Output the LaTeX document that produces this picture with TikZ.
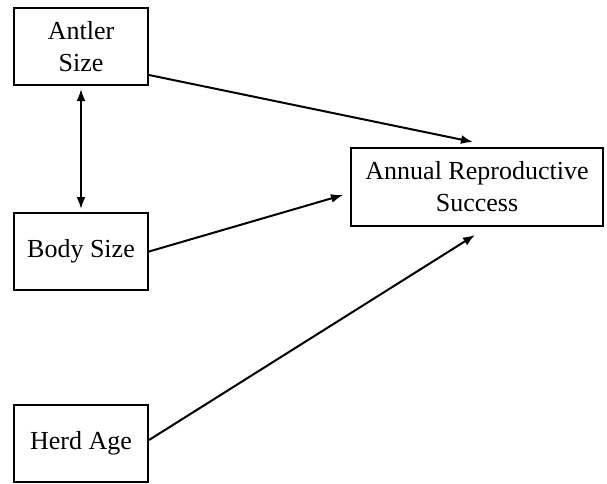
\documentclass[tikz,border=0pt]{standalone}
\usepackage{fontspec}
\setmainfont{Liberation Serif}
\usetikzlibrary{arrows.meta}
\begin{document}
\begin{tikzpicture}[x=1pt,y=-1pt,
  var/.style={draw, line width=2pt, inner sep=0pt, align=center,
    font=\fontsize{26}{32}\selectfont},
  link/.style={line width=2pt, -{Latex[length=12pt,width=9pt]}},
  dlink/.style={line width=2pt, {Latex[length=12pt,width=9pt]}-{Latex[length=12pt,width=9pt]}}]
\useasboundingbox (0,0) rectangle (607,483);
\node[var, minimum width=134pt, minimum height=77pt] (antler) at (81,46.5) {Antler\\Size};
\node[var, minimum width=134pt, minimum height=77pt] (body) at (81,251.5) {Body Size};
\node[var, minimum width=134pt, minimum height=77pt] (herd) at (81,443.5) {Herd Age};
\node[var, minimum width=252pt, minimum height=78pt] (ars) at (477,187) {Annual Reproductive\\Success};
\coordinate (t1) at (473,142);
\coordinate (t2) at (343,195);
\coordinate (t3) at (475,235);
\draw[link] (antler.east |- 0,75) -- (t1);
\draw[link] (body.east) -- (t2);
\draw[link] (herd.east |- 0,440) -- (t3);
\draw[dlink] ([yshift=-3pt]antler.south) -- ([yshift=3pt]body.north);
\end{tikzpicture}
\end{document}
